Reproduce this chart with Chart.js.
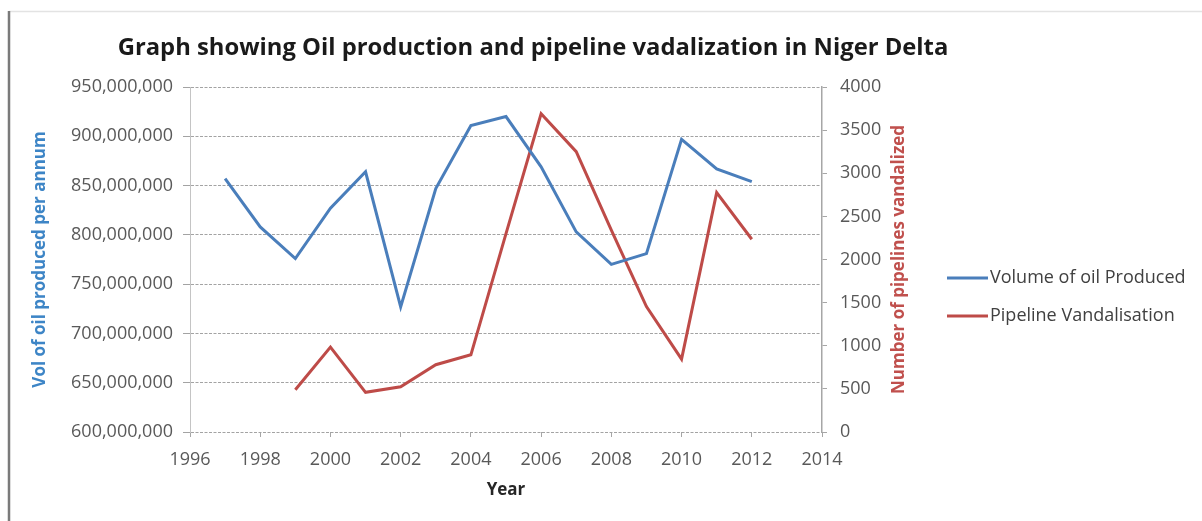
<!DOCTYPE html>
<html lang="en">
<head>
    <meta charset="UTF-8">
    <title>Oil production and pipeline vandalization</title>
    <style>
        html, body { margin: 0; padding: 0; background: #fff; }
        #wrap { width: 1202px; height: 521px; position: relative; }
    </style>
</head>
<body>
    <div id="wrap"><canvas id="myChart" width="1202" height="521"></canvas></div>
</body>
<script src="https://cdn.jsdelivr.net/npm/chart.js@4.4.0/dist/chart.umd.min.js"></script>
<script>
    // data
    var oilYears = [1997, 1998, 1999, 2000, 2001, 2002, 2003, 2004, 2005, 2006, 2007, 2008, 2009, 2010, 2011, 2012];
    var oilVolume = [857e6, 808e6, 776e6, 827e6, 864e6, 727e6, 847e6, 911e6, 920e6, 869e6, 803e6, 770e6, 781e6, 897e6, 867e6, 854e6];
    var vandalYears = [1999, 2000, 2001, 2002, 2003, 2004, 2005, 2006, 2007, 2008, 2009, 2010, 2011, 2012];
    var vandalised = [490, 985, 460, 525, 780, 895, 2300, 3690, 3250, 2340, 1455, 845, 2775, 2235];

    var yearTicks = [1996, 2014, 2];
    var oilTicks = [600e6, 950e6, 50e6];
    var vandalTicks = [0, 4000, 500];

    var seriesNames = ['Volume of oil Produced', 'Pipeline Vandalisation'];
    var seriesColors = ['#4A7EBB', '#BE4B48'];

    function pairs(xs, ys) {
        return xs.map(function (x, i) { return { x: x, y: ys[i] }; });
    }

    var tickFont = { family: 'Open Sans', size: 18 };
    var tickColor = '#595959';

    // extra drawing: frame, title, legend, right axis title
    var decor = {
        id: 'decor',
        beforeDraw: function (chart) {
            var ctx = chart.ctx;
            ctx.save();
            ctx.fillStyle = '#fff';
            ctx.fillRect(0, 0, chart.width, chart.height);
            ctx.strokeStyle = '#e3e3e3';
            ctx.lineWidth = 1.5;
            ctx.beginPath(); ctx.moveTo(9, 11.5); ctx.lineTo(chart.width, 11.5); ctx.stroke();
            ctx.strokeStyle = '#7a7a7a';
            ctx.lineWidth = 2.5;
            ctx.beginPath(); ctx.moveTo(9, 11); ctx.lineTo(9, chart.height); ctx.stroke();
            ctx.restore();
        },
        afterDraw: function (chart) {
            var ctx = chart.ctx;
            var area = chart.chartArea;
            ctx.save();
            // title
            ctx.fillStyle = '#1a1a1a';
            ctx.font = 'bold 23.8px "Open Sans"';
            ctx.textAlign = 'center';
            ctx.textBaseline = 'alphabetic';
            ctx.fillText('Graph showing Oil production and pipeline vadalization in Niger Delta', 533, 55);

            // right axis title
            ctx.save();
            ctx.translate(899, (area.top + area.bottom) / 2);
            ctx.rotate(-Math.PI / 2);
            ctx.fillStyle = '#C0504D';
            ctx.font = 'bold 17px "Open Sans"';
            ctx.textAlign = 'center';
            ctx.textBaseline = 'middle';
            ctx.fillText('Number of pipelines vandalized', 0, 0);
            ctx.restore();

            // legend
            ctx.font = '18px "Open Sans"';
            ctx.textAlign = 'left';
            ctx.textBaseline = 'middle';
            chart.data.datasets.forEach(function (ds, i) {
                var y = 278 + i * 38;
                ctx.strokeStyle = ds.borderColor;
                ctx.lineWidth = 3;
                ctx.beginPath(); ctx.moveTo(947, y); ctx.lineTo(988, y); ctx.stroke();
                ctx.fillStyle = '#404040';
                ctx.fillText(ds.label, 990, y);
            });
            ctx.restore();
        }
    };

    var ctx = document.getElementById('myChart').getContext('2d');
    var myChart = new Chart(ctx, {
        type: 'line',
        data: {
            datasets: [{
                label: seriesNames[0],
                data: pairs(oilYears, oilVolume),
                borderColor: seriesColors[0],
                borderWidth: 3,
                pointRadius: 0,
                yAxisID: 'y'
            }, {
                label: seriesNames[1],
                data: pairs(vandalYears, vandalised),
                borderColor: seriesColors[1],
                borderWidth: 3,
                pointRadius: 0,
                yAxisID: 'y1'
            }]
        },
        options: {
            responsive: false,
            animation: false,
            layout: { padding: { top: 87, left: 0, right: 0, bottom: 0 } },
            plugins: {
                legend: { display: false },
                title: { display: false },
                tooltip: { enabled: false }
            },
            scales: {
                x: {
                    type: 'linear',
                    min: yearTicks[0],
                    max: yearTicks[1],
                    afterFit: function (s) { s.height = 89; },
                    ticks: {
                        stepSize: yearTicks[2],
                        font: tickFont,
                        color: tickColor,
                        padding: 12,
                        maxRotation: 0,
                        callback: function (v) { return String(v); }
                    },
                    grid: { drawOnChartArea: false, tickLength: 5, color: '#a6a6a6' },
                    border: { display: false },
                    title: {
                        display: true,
                        text: 'Year',
                        color: '#262626',
                        font: { family: 'Open Sans', size: 17, weight: 'bold' },
                        padding: { top: 0, bottom: 21 }
                    }
                },
                y: {
                    position: 'left',
                    min: oilTicks[0],
                    max: oilTicks[1],
                    afterFit: function (s) { s.width = 190; },
                    ticks: {
                        stepSize: oilTicks[2],
                        font: tickFont,
                        color: tickColor,
                        padding: 10,
                        callback: function (v) { return v.toLocaleString('en-US'); }
                    },
                    grid: { color: '#a3a3a3', tickLength: 7, lineWidth: 1 },
                    border: { display: true, color: '#c4c4c4', width: 1, dash: [3, 1.5] },
                    title: {
                        display: true,
                        text: 'Vol of oil produced per annum',
                        color: '#3D85C6',
                        font: { family: 'Open Sans', size: 17, weight: 'bold' },
                        padding: { top: 30, bottom: 0 }
                    }
                },
                y1: {
                    position: 'right',
                    min: vandalTicks[0],
                    max: vandalTicks[1],
                    afterFit: function (s) { s.width = 380; },
                    ticks: {
                        stepSize: vandalTicks[2],
                        font: tickFont,
                        color: tickColor,
                        padding: 13,
                        callback: function (v) { return String(v); }
                    },
                    grid: { drawOnChartArea: false, tickLength: 5, color: '#a6a6a6' },
                    border: { display: true, color: '#a6a6a6', width: 1.5 }
                }
            }
        },
        plugins: [decor]
    });
</script>
</html>
